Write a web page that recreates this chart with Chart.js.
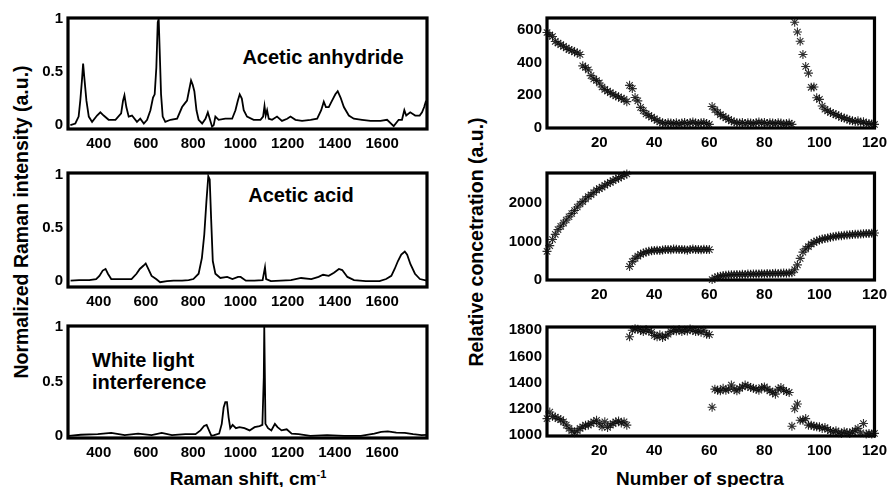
<!DOCTYPE html>
<html>
<head>
<meta charset="utf-8">
<script src="https://cdn.jsdelivr.net/npm/chart.js@4/dist/chart.umd.min.js"></script>
<style>
  body { margin: 0; background: #fff; }
  #stage { position: relative; width: 893px; height: 487px; overflow: hidden; font-family: "Liberation Sans", Arial, sans-serif; font-weight: bold; color: #000; }
  .panel { position: absolute; }
  .txt { position: absolute; white-space: nowrap; line-height: 1; }
  .ytitle { font-size: 19.5px; transform: translate(-50%, -50%) rotate(-90deg); }
  .xtitle { font-size: 19px; transform: translate(-50%, -50%); }
  .note { font-size: 20px; }
  sup { font-size: 11px; vertical-align: 7px; }
</style>
</head>
<body>
<div id="stage">
  <div class="txt ytitle" style="left:22px; top:222px">Normalized Raman intensity (a.u.)</div>
  <div class="txt ytitle" style="left:477px; top:242px">Relative concetration (a.u.)</div>
  <div class="txt xtitle" style="left:248px; top:478px">Raman shift, cm<sup>-1</sup></div>
  <div class="txt xtitle" style="left:700px; top:478px">Number of spectra</div>
  <div class="txt note" style="left:323px; top:57px; transform:translate(-50%,-50%)">Acetic anhydride</div>
  <div class="txt note" style="left:301px; top:195px; transform:translate(-50%,-50%)">Acetic acid</div>
  <div class="txt note" style="left:92px; top:350px">White light</div>
  <div class="txt note" style="left:92px; top:372px">interference</div>
</div>
<script>
// spectra (wavenumber cm-1 / normalized intensity)
const anhydrideShift = [280, 301, 315, 322, 329, 334, 339, 348, 358, 372, 393, 407, 421, 442, 471, 495, 503, 509, 517, 527, 541, 562, 576, 591, 605, 619, 630, 637, 644, 650, 654, 658, 664, 671, 682, 704, 732, 753, 763, 774, 781, 791, 798, 805, 814, 823, 838, 852, 862, 870, 880, 887, 894, 908, 936, 965, 979, 989, 997, 1006, 1014, 1028, 1056, 1085, 1096, 1102, 1107, 1113, 1120, 1134, 1155, 1176, 1198, 1212, 1233, 1261, 1297, 1325, 1342, 1353, 1362, 1374, 1388, 1402, 1412, 1424, 1438, 1459, 1480, 1515, 1551, 1593, 1621, 1649, 1670, 1684, 1694, 1702, 1719, 1740, 1759, 1769, 1778, 1786]
const anhydrideInt = [0, 0.015, 0.08, 0.23, 0.42, 0.58, 0.45, 0.23, 0.08, 0.03, 0.09, 0.12, 0.09, 0.05, 0.05, 0.11, 0.23, 0.28, 0.17, 0.08, 0.09, 0.03, 0.06, 0.015, 0.05, 0.14, 0.26, 0.29, 0.54, 0.97, 1.0, 0.72, 0.29, 0.08, 0.03, 0.05, 0.06, 0.17, 0.2, 0.23, 0.31, 0.42, 0.38, 0.32, 0.14, 0.05, 0.015, 0.06, 0.12, 0.06, -0.015, 0, 0.08, 0.05, 0.06, 0.06, 0.14, 0.23, 0.29, 0.25, 0.14, 0.08, 0.05, 0.05, 0.08, 0.18, 0.09, 0.14, 0.06, 0.05, 0.08, 0.04, 0.06, 0.08, 0.05, 0.04, 0.05, 0.06, 0.14, 0.22, 0.17, 0.17, 0.23, 0.29, 0.32, 0.26, 0.17, 0.09, 0.06, 0.05, 0.04, 0.04, 0.05, -0.01, 0.05, 0.05, 0.14, 0.09, 0.12, 0.09, 0.09, 0.12, 0.17, 0.23]

const acidShift = [281, 317, 360, 389, 403, 417, 429, 439, 453, 489, 539, 560, 574, 589, 599, 610, 624, 643, 660, 689, 717, 753, 781, 801, 823, 837, 847, 856, 864, 870, 876, 883, 894, 915, 944, 966, 990, 1001, 1023, 1059, 1094, 1104, 1109, 1129, 1171, 1214, 1257, 1300, 1331, 1350, 1374, 1396, 1417, 1431, 1453, 1481, 1531, 1589, 1617, 1639, 1653, 1667, 1681, 1696, 1706, 1720, 1739, 1760, 1789]
const acidInt = [0.005, 0.01, 0.01, 0.02, 0.05, 0.1, 0.115, 0.07, 0.02, 0.02, 0.02, 0.07, 0.115, 0.145, 0.167, 0.115, 0.05, 0.02, -0.01, 0, 0.005, 0.005, 0.01, 0.02, 0.07, 0.22, 0.44, 0.75, 0.99, 0.96, 0.59, 0.19, 0.07, 0.03, 0.04, 0.02, 0.04, 0.04, 0.005, 0.005, 0.01, 0.13, 0.02, 0, 0.005, 0.01, 0.03, 0.02, 0.04, 0.06, 0.05, 0.08, 0.115, 0.105, 0.04, 0.01, 0, 0, 0.02, 0.05, 0.115, 0.19, 0.25, 0.28, 0.25, 0.16, 0.07, 0.02, 0.005]

const whiteShift = [274, 324, 396, 453, 510, 567, 624, 667, 710, 767, 810, 831, 846, 857, 867, 877, 889, 910, 921, 929, 936, 943, 950, 957, 967, 981, 996, 1017, 1039, 1060, 1081, 1093, 1099, 1101, 1106, 1117, 1131, 1146, 1157, 1174, 1196, 1217, 1246, 1296, 1367, 1439, 1510, 1567, 1596, 1624, 1660, 1696, 1731, 1767, 1793]
const whiteInt = [0, 0.01, 0.015, 0.027, 0.006, 0.02, 0.006, 0.027, 0.006, 0.015, 0.015, 0.05, 0.09, 0.1, 0.05, 0, 0.006, 0.02, 0.11, 0.26, 0.31, 0.31, 0.17, 0.07, 0.1, 0.07, 0.08, 0.07, 0.05, 0.08, 0.09, 0.1, 0.54, 1.0, 0.11, 0.07, 0.05, 0.11, 0.08, 0.05, 0.06, 0.02, 0.015, 0, 0.006, 0, 0, 0.02, 0.036, 0.04, 0.03, 0.027, 0.015, 0.006, 0.01]

// relative concentrations, spectra 1..120
const conc1 = [585, 570, 560, 530, 520, 510, 500, 490, 480, 475, 465, 460, 450, 380, 370, 355, 320, 300, 290, 275, 250, 235, 225, 215, 205, 195, 190, 180, 175, 160,
  260, 240, 185, 165, 125, 105, 85, 75, 65, 55, 45, 35, 30, 25, 30, 28, 25, 30, 22, 28, 32, 25, 30, 35, 28, 25, 30, 32, 25, 20,
  130, 110, 95, 80, 70, 60, 50, 42, 35, 30, 28, 32, 25, 30, 28, 25, 30, 35, 28, 32, 25, 30, 28, 25, 30, 28, 22, 25, 28, 20,
  648, 588, 531, 450, 376, 335, 248, 250, 184, 174, 133, 113, 103, 93, 87, 79, 73, 63, 59, 53, 46, 42, 38, 42, 32, 36, 26, 26, 22, 20]
const conc2 = [740, 890, 1050, 1185, 1310, 1395, 1480, 1560, 1645, 1730, 1810, 1900, 1980, 2040, 2110, 2175, 2220, 2280, 2345, 2380, 2420, 2470, 2510, 2545, 2590, 2630, 2655, 2700, 2730, 2765,
  345, 470, 555, 615, 665, 695, 720, 740, 755, 765, 770, 760, 775, 785, 790, 780, 800, 795, 785, 790, 780, 770, 790, 800, 785, 790, 780, 795, 790, 785,
  0, 50, 75, 90, 105, 115, 120, 125, 130, 135, 130, 140, 135, 145, 140, 150, 145, 150, 155, 150, 160, 155, 160, 165, 160, 165, 170, 165, 175, 180,
  260, 385, 555, 720, 805, 865, 930, 975, 1010, 1035, 1060, 1075, 1090, 1110, 1125, 1135, 1145, 1150, 1160, 1165, 1175, 1180, 1185, 1190, 1195, 1200, 1205, 1210, 1215, 1220]
const conc3 = [1125, 1175, 1142, 1137, 1125, 1117, 1100, 1075, 1050, 1032, 1017, 1032, 1050, 1062, 1075, 1075, 1087, 1100, 1112, 1087, 1062, 1100, 1057, 1075, 1087, 1100, 1107, 1092, 1100, 1075,
  1750, 1800, 1812, 1807, 1800, 1790, 1805, 1795, 1785, 1760, 1750, 1765, 1745, 1755, 1770, 1790, 1800, 1795, 1805, 1790, 1800, 1795, 1810, 1800, 1790, 1795, 1785, 1800, 1770, 1767,
  1212, 1350, 1342, 1337, 1357, 1342, 1350, 1382, 1350, 1337, 1357, 1367, 1382, 1372, 1362, 1357, 1350, 1342, 1362, 1367, 1350, 1337, 1325, 1312, 1350, 1362, 1342, 1332, 1325, 1067,
  1200, 1237, 1112, 1112, 1125, 1075, 1075, 1067, 1062, 1062, 1050, 1057, 1042, 1032, 1025, 1032, 1017, 1012, 1025, 1017, 1012, 1025, 1032, 1050, 1017, 1087, 1007, 1012, 1007, 1012]

// tick labels
const shiftTicks = [400, 600, 800, 1000, 1200, 1400, 1600]
const intensityTicks = [0, 0.5, 1]
const spectraTicks = [20, 40, 60, 80, 100, 120]
const conc1Ticks = [0, 200, 400, 600]
const conc2Ticks = [0, 1000, 2000]
const conc3Ticks = [1000, 1200, 1400, 1600, 1800]

Chart.defaults.font.family = "'Liberation Sans', Arial, sans-serif"
Chart.defaults.font.weight = "bold"
Chart.defaults.font.size = 15
Chart.defaults.color = "#000"

const Y_W = 50
const PAD_T = 12
const PAD_R = 16
const X_H = 28

// black MATLAB-style box round the plot area
const framePlugin = {
  id: "frame",
  beforeDatasetsDraw(chart) {
    const a = chart.chartArea
    const ctx = chart.ctx
    ctx.save()
    ctx.strokeStyle = "#000"
    ctx.lineWidth = 3.2
    ctx.strokeRect(a.left, a.top, a.right - a.left, a.bottom - a.top)
    ctx.restore()
  },
}

const fixTicks = (list) => (scale) => {
  scale.ticks = list.map((v) => ({ value: v }))
}

const plain = (v) => String(v)

const makePanel = (box, dataset, xr, yr, xTicks, yTicks) => {
  const div = document.createElement("div")
  div.className = "panel"
  div.style.left = box.l - Y_W + "px"
  div.style.top = box.t - PAD_T + "px"
  div.style.width = Y_W + (box.r - box.l) + PAD_R + "px"
  div.style.height = PAD_T + (box.b - box.t) + X_H + "px"
  const canvas = document.createElement("canvas")
  div.appendChild(canvas)
  document.getElementById("stage").appendChild(div)

  new Chart(canvas, {
    type: "line",
    data: { datasets: [dataset] },
    options: {
      responsive: true,
      maintainAspectRatio: false,
      animation: false,
      layout: { padding: { top: PAD_T, right: PAD_R, left: 0, bottom: 0 } },
      plugins: { legend: { display: false }, tooltip: { enabled: false } },
      scales: {
        x: {
          type: "linear",
          min: xr[0],
          max: xr[1],
          grid: { display: false, drawTicks: false },
          border: { display: false },
          ticks: { padding: 6, maxRotation: 0, autoSkip: false, callback: plain },
          afterBuildTicks: fixTicks(xTicks),
          afterFit: (s) => { s.height = X_H },
        },
        y: {
          min: yr[0],
          max: yr[1],
          grid: { display: false, drawTicks: false },
          border: { display: false },
          ticks: { padding: 5, autoSkip: false, callback: plain },
          afterBuildTicks: fixTicks(yTicks),
          afterFit: (s) => { s.width = Y_W },
        },
      },
    },
    plugins: [framePlugin],
  })
}

const spectrum = (xs, ys) => ({
  data: xs.map((x, i) => ({ x: x, y: ys[i] })),
  borderColor: "#000",
  borderWidth: 1.8,
  pointRadius: 0,
  tension: 0,
})

const stars = (vals) => ({
  data: vals.map((v, i) => ({ x: i + 1, y: v })),
  showLine: false,
  pointStyle: "star",
  pointRadius: 4.5,
  pointBorderWidth: 1.1,
  pointBorderColor: "rgba(10,10,10,0.85)",
  clip: false,
})

const shiftRange = [270, 1790]
const spectraRange = [1, 120]

makePanel({ l: 68, r: 427, t: 16, b: 129 }, spectrum(anhydrideShift, anhydrideInt), shiftRange, [-0.037, 1.01], shiftTicks, intensityTicks)
makePanel({ l: 68, r: 427, t: 171, b: 287 }, spectrum(acidShift, acidInt), shiftRange, [-0.055, 1.02], shiftTicks, intensityTicks)
makePanel({ l: 68, r: 427, t: 324, b: 438 }, spectrum(whiteShift, whiteInt), shiftRange, [-0.02, 1.01], shiftTicks, intensityTicks)

makePanel({ l: 547, r: 877, t: 16, b: 128 }, stars(conc1), spectraRange, [-2, 674], spectraTicks, conc1Ticks)
makePanel({ l: 547, r: 877, t: 171, b: 280 }, stars(conc2), spectraRange, [-10, 2790], spectraTicks, conc2Ticks)
makePanel({ l: 547, r: 877, t: 325, b: 436 }, stars(conc3), spectraRange, [992, 1825], spectraTicks, conc3Ticks)
</script>
</body>
</html>
